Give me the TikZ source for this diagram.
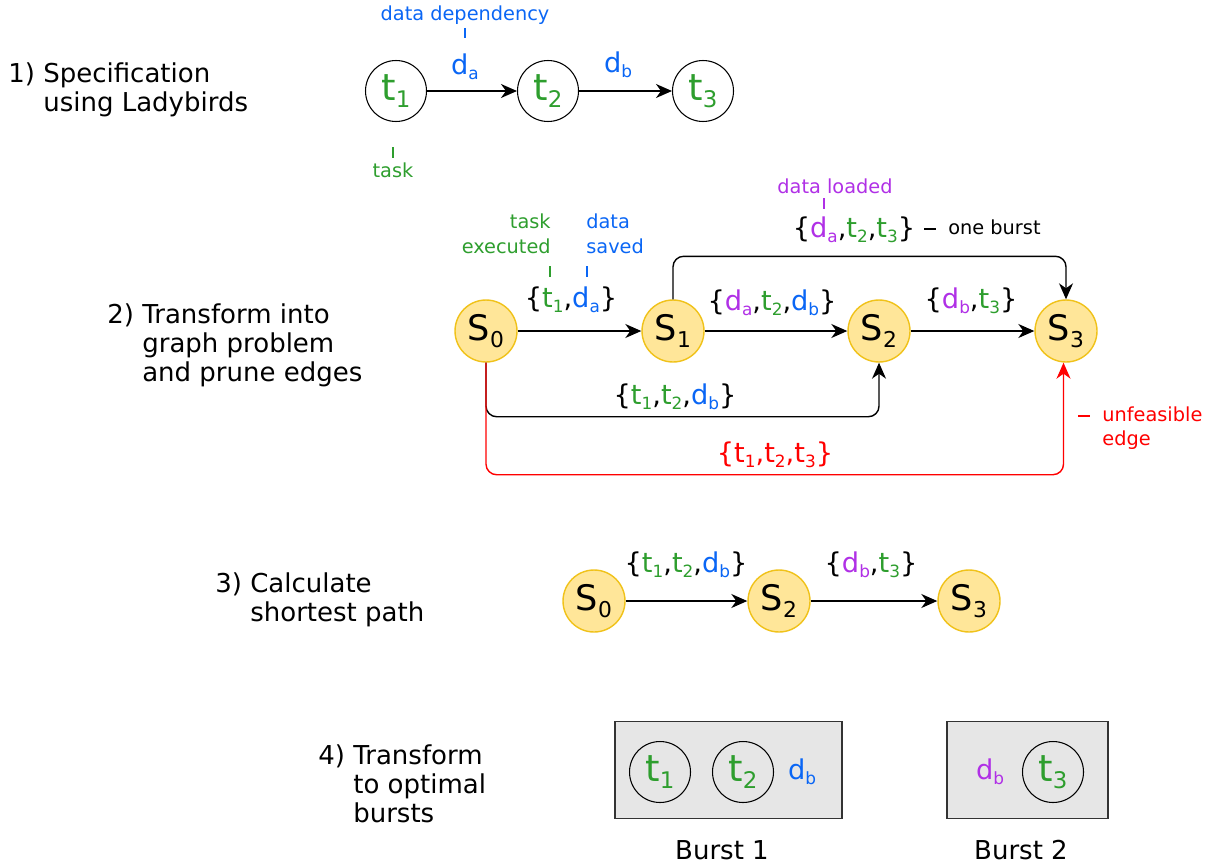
\documentclass[tikz,border=0pt]{standalone}
\usepackage{fontspec}
\setmainfont{DejaVu Sans}
\usepackage{xcolor}
\usetikzlibrary{arrows.meta}
\definecolor{LBGreen}{HTML}{2E9E2E}
\definecolor{LBBlue}{HTML}{0A66F5}
\definecolor{LBPurple}{HTML}{B030E6}
\definecolor{LBRed}{HTML}{FF0000}
\definecolor{LBStateFill}{HTML}{FFE699}
\definecolor{LBStateLine}{HTML}{F0C21A}
\definecolor{LBBurst}{HTML}{E6E6E6}
\newcommand{\lo}[1]{\raisebox{-0.2em}{\scalebox{0.62}{#1}}}
\newcommand{\tsk}[1]{\textcolor{LBGreen}{t\lo{#1}}}
\newcommand{\dsave}[1]{\textcolor{LBBlue}{d\lo{#1}}}
\newcommand{\dload}[1]{\textcolor{LBPurple}{d\lo{#1}}}

\begin{document}
\begin{tikzpicture}[x=0.02cm,y=-0.02cm,
  tasknode/.style={circle,draw=black,line width=0.6pt,minimum size=1.22cm,inner sep=0pt,
    font=\fontsize{21}{24}\selectfont,text=LBGreen},
  statenode/.style={circle,draw=LBStateLine,fill=LBStateFill,line width=0.8pt,minimum size=1.24cm,
    inner sep=0pt,font=\fontsize{20}{24}\selectfont},
  edge/.style={-{Stealth[length=3.2mm,width=2.8mm,inset=1mm]},line width=0.8pt,rounded corners=6pt},
  setlabel/.style={font=\fontsize{15.5}{18}\selectfont,inner sep=0pt},
  notelabel/.style={font=\fontsize{11}{14}\selectfont,inner sep=0pt},
  steplabel/.style={font=\fontsize{14.8}{16.5}\selectfont,align=left,anchor=north west,inner sep=0pt},
  burstlabel/.style={font=\fontsize{14.8}{16.5}\selectfont,inner sep=0pt},
  tickline/.style={line width=0.8pt},
  burstbox/.style={draw=black!80,fill=LBBurst,line width=0.8pt,minimum height=1.94cm,inner sep=0pt}]
\path[use as bounding box] (0,0) rectangle (1212,865);

% 1) specification
\node[steplabel] (step1) at (8,62) {1) Specification\\\phantom{1) }using Ladybirds};
\node[tasknode] (t1) at (396,91) {t\lo{1}};
\node[tasknode] (t2) at (548,91) {t\lo{2}};
\node[tasknode] (t3) at (703,91) {t\lo{3}};
\draw[edge] (t1) -- (t2);
\draw[edge] (t2) -- (t3);
\node[setlabel] (da) at (465,67) {\dsave{a}};
\node[setlabel] (db) at (618,65) {\dsave{b}};
\node[notelabel,text=LBBlue] (depnote) at (465,15) {data dependency};
\draw[tickline,LBBlue] (465,28) -- (465,38);
\node[notelabel,text=LBGreen] (tasknote) at (393,170) {task};
\draw[tickline,LBGreen] (393,147) -- (393,158);

% 2) graph problem
\node[steplabel] (step2) at (107,303) {2) Transform into\\\phantom{2) }graph problem\\\phantom{2) }and prune edges};
\node[statenode] (s0) at (486,331) {S\lo{0}};
\node[statenode] (s1) at (673,331) {S\lo{1}};
\node[statenode] (s2) at (879,331) {S\lo{2}};
\node[statenode] (s3) at (1066,331) {S\lo{3}};
\draw[edge] (s0) -- (s1);
\draw[edge] (s1) -- (s2);
\draw[edge] (s2) -- (s3);
\draw[edge] (s1.north) -- ++(0,-43) -| (s3.north);
\draw[edge] (s0.south) -- ++(0,54) -| (s2.south);
\draw[edge,LBRed] (s0.south) -- ++(0,112) -| ([xshift=-0.05cm]s3.south);
\node[setlabel] (e01) at (571,300) {\{\tsk{1},\dsave{a}\}};
\node[setlabel] (e12) at (772,303) {\{\dload{a},\tsk{2},\dsave{b}\}};
\node[setlabel] (e23) at (971,301) {\{\dload{b},\tsk{3}\}};
\node[setlabel] (e13) at (854,230) {\{\dload{a},\tsk{2},\tsk{3}\}};
\node[setlabel] (e02) at (675,397) {\{\tsk{1},\tsk{2},\dsave{b}\}};
\node[setlabel,text=LBRed] (e03) at (775,455) {\{t\lo{1},t\lo{2},t\lo{3}\}};
\node[notelabel,text=LBPurple] (loadnote) at (835,186) {data loaded};
\draw[tickline,LBPurple] (824,198) -- (824,209);
\node[notelabel,align=right,anchor=east,text=LBGreen] (execnote) at (551,234) {task\\executed};
\draw[tickline,LBGreen] (550,266) -- (550,277);
\node[notelabel,align=left,anchor=west,text=LBBlue] (savenote) at (586,234) {data\\saved};
\draw[tickline,LBBlue] (587,266) -- (587,277);
\draw[tickline] (924,229) -- (936,229);
\node[notelabel,anchor=west] (burstnote) at (948,227) {one burst};
\draw[tickline,LBRed] (1078,416) -- (1090,416);
\node[notelabel,align=left,anchor=west,text=LBRed] (unfnote) at (1102,428) {unfeasible\\edge};

% 3) shortest path
\node[steplabel] (step3) at (215,572) {3) Calculate\\\phantom{3) }shortest path};
\node[statenode] (p0) at (594,601) {S\lo{0}};
\node[statenode] (p2) at (779,601) {S\lo{2}};
\node[statenode] (p3) at (969,601) {S\lo{3}};
\draw[edge] (p0) -- (p2);
\draw[edge] (p2) -- (p3);
\node[setlabel] (f02) at (686,565) {\{\tsk{1},\tsk{2},\dsave{b}\}};
\node[setlabel] (f23) at (871,565) {\{\dload{b},\tsk{3}\}};

% 4) bursts
\node[steplabel] (step4) at (318,744) {4) Transform\\\phantom{4) }to optimal\\\phantom{4) }bursts};
\node[burstbox,minimum width=4.54cm] (burst1) at (728.5,770) {};
\node[burstbox,minimum width=3.22cm] (burst2) at (1027.5,770) {};
\node[tasknode] (b1t1) at (660,772) {t\lo{1}};
\node[tasknode] (b1t2) at (743,772) {t\lo{2}};
\node[setlabel] (b1d) at (802,772) {\dsave{b}};
\node[setlabel] (b2d) at (990,772) {\dload{b}};
\node[tasknode] (b2t3) at (1053,772) {t\lo{3}};
\node[burstlabel] (burst1name) at (722,850) {Burst 1};
\node[burstlabel] (burst2name) at (1021,850) {Burst 2};
\end{tikzpicture}
\end{document}
